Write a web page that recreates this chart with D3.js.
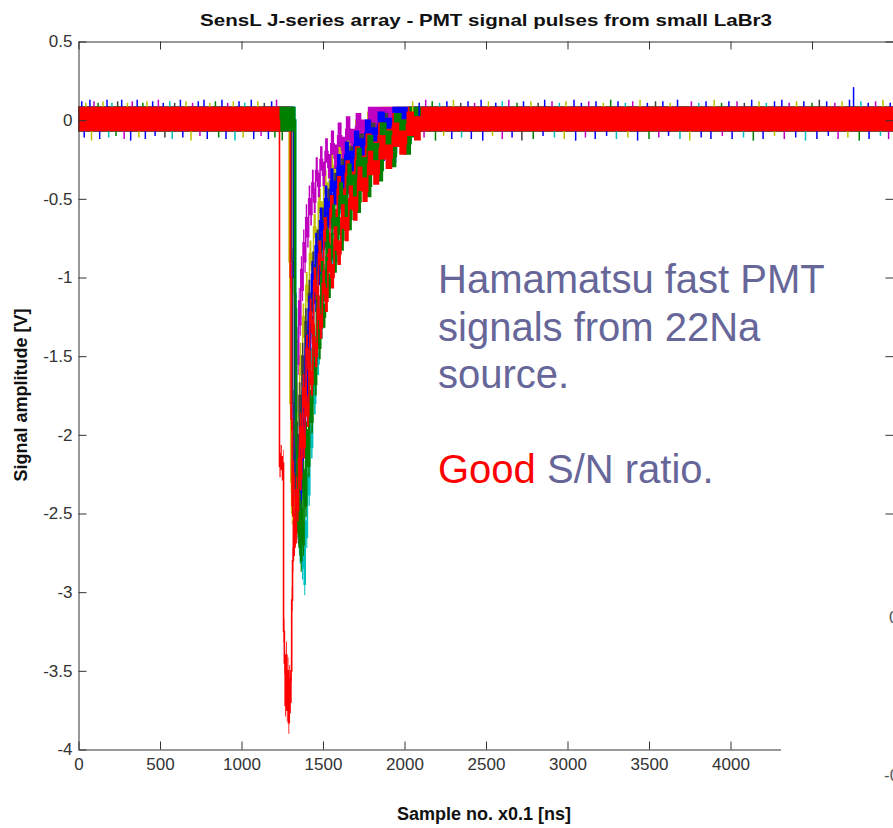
<!DOCTYPE html>
<html>
<head>
<meta charset="utf-8">
<script src="https://cdn.jsdelivr.net/npm/d3@7"></script>
<style>
body { margin: 0; background: #fff; }
text { font-family: "Liberation Sans", Arial, sans-serif; }
</style>
</head>
<body>
<script>
// PMT pulse traces (sample no., volts)

var xTicks = [0, 500, 1000, 1500, 2000, 2500, 3000, 3500, 4000, 4500, 5000];
var xLabelTicks = [0, 500, 1000, 1500, 2000, 2500, 3000, 3500, 4000];
var yTicks = [0.5, 0, -0.5, -1, -1.5, -2, -2.5, -3, -3.5, -4];

var traceNames = ["b1", "y1", "m1", "c1", "k1", "b2", "g1", "r2", "g2", "r1"];
var traceColors = ["#0000ff", "#bfbf00", "#bf00bf", "#00bfbf", "#404040",
                   "#0000ff", "#008000", "#ff0000", "#008000", "#ff0000"];

// noise band around every trace (V, relative to the trace)
var bandHigh = 0.085;
var bandLow = -0.07;

var pulseB1 = [[1325,0.0],[1328,-1.1],[1333,-2.0],[1338,-2.45],[1343,-2.3],[1348,-2.62],[1354,-2.4],[1360,-2.5],[1366,-2.15],[1372,-2.3],[1379,-1.9],[1386,-2.0],[1393,-1.65],[1400,-1.8],[1408,-1.45],[1416,-1.55],[1424,-1.25],[1433,-1.35],[1442,-1.05],[1452,-1.15],[1462,-0.88],[1473,-0.98],[1484,-0.72],[1496,-0.82],[1508,-0.58],[1521,-0.68],[1535,-0.46],[1550,-0.55],[1566,-0.37],[1583,-0.44],[1601,-0.28],[1620,-0.35],[1641,-0.21],[1663,-0.28],[1687,-0.15],[1712,-0.22],[1740,-0.1],[1770,-0.17],[1805,-0.06],[1845,-0.19],[1880,-0.12],[1915,-0.2],[1950,-0.04],[1990,-0.09],[2030,0.0]];
var pulseY1 = [[1288,0.0],[1292,-0.9],[1297,-1.8],[1302,-2.3],[1308,-2.5],[1314,-2.2],[1320,-2.4],[1327,-2.0],[1334,-2.15],[1341,-1.75],[1349,-1.88],[1357,-1.5],[1366,-1.62],[1375,-1.25],[1385,-1.38],[1395,-1.05],[1406,-1.15],[1417,-0.85],[1429,-0.95],[1442,-0.68],[1456,-0.78],[1471,-0.52],[1487,-0.6],[1504,-0.4],[1522,-0.48],[1542,-0.3],[1563,-0.37],[1586,-0.22],[1610,-0.28],[1636,-0.14],[1665,-0.2],[1697,-0.08],[1732,-0.13],[1770,-0.03],[1810,-0.07],[1850,0.0]];
var pulseM1 = [[1300,0.0],[1304,-1.0],[1309,-1.9],[1314,-2.3],[1319,-2.05],[1324,-2.2],[1329,-1.7],[1334,-1.85],[1339,-1.4],[1345,-1.55],[1351,-1.15],[1357,-1.3],[1364,-0.95],[1371,-1.08],[1378,-0.78],[1386,-0.9],[1394,-0.62],[1403,-0.74],[1412,-0.5],[1422,-0.6],[1432,-0.4],[1443,-0.52],[1455,-0.32],[1468,-0.42],[1482,-0.25],[1497,-0.35],[1513,-0.2],[1530,-0.3],[1548,-0.15],[1568,-0.24],[1590,-0.1],[1614,-0.19],[1640,-0.06],[1668,-0.14],[1700,-0.04],[1735,-0.08],[1775,0.0]];
var pulseC1 = [[1330,0.0],[1333,-1.2],[1338,-2.2],[1344,-2.6],[1350,-2.45],[1357,-2.75],[1364,-2.6],[1371,-2.85],[1378,-2.65],[1385,-2.95],[1391,-2.55],[1397,-2.65],[1404,-2.25],[1411,-2.38],[1419,-1.95],[1427,-2.08],[1436,-1.68],[1445,-1.8],[1455,-1.42],[1465,-1.55],[1476,-1.2],[1487,-1.32],[1499,-1.0],[1512,-1.1],[1526,-0.82],[1541,-0.92],[1557,-0.66],[1574,-0.75],[1592,-0.52],[1612,-0.6],[1633,-0.4],[1656,-0.47],[1680,-0.3],[1706,-0.37],[1734,-0.22],[1764,-0.28],[1797,-0.15],[1832,-0.21],[1870,-0.09],[1910,-0.14],[1955,-0.03],[2000,-0.07],[2045,0.0]];
var pulseK1 = [[1305,0.0],[1309,-0.9],[1314,-1.8],[1320,-2.3],[1326,-2.1],[1332,-2.35],[1339,-2.0],[1346,-2.15],[1354,-1.75],[1362,-1.9],[1371,-1.5],[1380,-1.65],[1390,-1.28],[1400,-1.42],[1411,-1.1],[1422,-1.22],[1434,-0.92],[1447,-1.04],[1461,-0.78],[1476,-0.88],[1492,-0.64],[1509,-0.74],[1527,-0.52],[1546,-0.62],[1566,-0.42],[1588,-0.5],[1611,-0.33],[1636,-0.4],[1662,-0.25],[1690,-0.32],[1720,-0.17],[1752,-0.23],[1786,-0.1],[1822,-0.15],[1860,-0.04],[1900,-0.08],[1945,0.0]];
var pulseB2 = [[1318,0.0],[1321,-1.0],[1326,-1.9],[1331,-2.4],[1336,-2.2],[1342,-2.5],[1348,-2.25],[1354,-2.38],[1361,-2.0],[1368,-2.12],[1375,-1.72],[1383,-1.85],[1391,-1.45],[1400,-1.58],[1409,-1.2],[1419,-1.32],[1429,-0.98],[1440,-1.1],[1452,-0.8],[1465,-0.9],[1479,-0.64],[1494,-0.74],[1510,-0.5],[1527,-0.6],[1545,-0.39],[1565,-0.47],[1586,-0.3],[1609,-0.37],[1634,-0.22],[1661,-0.28],[1690,-0.15],[1722,-0.2],[1757,-0.08],[1795,-0.13],[1835,-0.03],[1880,-0.07],[1925,0.0]];
var pulseG1 = [[1322,0.0],[1325,-1.1],[1330,-2.0],[1336,-2.5],[1342,-2.3],[1349,-2.65],[1356,-2.45],[1363,-2.8],[1370,-2.55],[1377,-2.7],[1384,-2.3],[1392,-2.45],[1400,-2.05],[1409,-2.2],[1418,-1.8],[1428,-1.92],[1438,-1.55],[1449,-1.68],[1461,-1.32],[1473,-1.45],[1486,-1.12],[1500,-1.25],[1515,-0.95],[1531,-1.06],[1548,-0.8],[1566,-0.9],[1585,-0.66],[1606,-0.76],[1628,-0.54],[1652,-0.63],[1677,-0.44],[1704,-0.52],[1733,-0.34],[1764,-0.42],[1797,-0.26],[1832,-0.32],[1869,-0.17],[1908,-0.23],[1950,-0.1],[1995,-0.15],[2040,-0.04],[2085,0.0]];
var pulseR2 = [[1295,0.0],[1299,-1.0],[1304,-1.9],[1310,-2.45],[1316,-2.25],[1322,-2.7],[1328,-2.5],[1335,-2.62],[1342,-2.2],[1350,-2.35],[1358,-1.95],[1367,-2.08],[1376,-1.7],[1386,-1.82],[1396,-1.45],[1407,-1.58],[1418,-1.22],[1430,-1.35],[1443,-1.02],[1457,-1.14],[1472,-0.85],[1488,-0.96],[1505,-0.7],[1523,-0.8],[1543,-0.56],[1564,-0.65],[1587,-0.44],[1611,-0.52],[1637,-0.34],[1665,-0.41],[1695,-0.25],[1727,-0.31],[1761,-0.17],[1798,-0.22],[1838,-0.1],[1880,-0.14],[1925,-0.04],[1972,-0.08],[2020,0.0]];
var pulseG2 = [[1328,0.0],[1331,-1.2],[1336,-2.1],[1342,-2.55],[1348,-2.35],[1355,-2.7],[1362,-2.5],[1369,-2.6],[1377,-2.25],[1385,-2.4],[1394,-2.0],[1403,-2.12],[1413,-1.72],[1423,-1.85],[1434,-1.45],[1446,-1.58],[1459,-1.2],[1472,-1.32],[1487,-0.98],[1502,-1.08],[1519,-0.78],[1537,-0.88],[1556,-0.62],[1577,-0.7],[1599,-0.48],[1623,-0.56],[1649,-0.36],[1676,-0.43],[1706,-0.26],[1738,-0.32],[1772,-0.18],[1809,-0.23],[1848,-0.1],[1890,-0.15],[1935,-0.04],[1982,-0.08],[2030,0.0]];
var pulseR1 = [[1228,0.0],[1233,-2.2],[1240,-2.15],[1247,-2.22],[1254,-2.18],[1258,-3.25],[1263,-3.45],[1268,-3.72],[1273,-3.4],[1278,-3.75],[1283,-3.5],[1288,-3.83],[1293,-3.55],[1298,-3.7],[1303,-3.5],[1308,-3.05],[1313,-2.8],[1318,-2.55],[1325,-2.65],[1333,-2.35],[1341,-2.48],[1350,-2.15],[1359,-2.28],[1369,-1.95],[1379,-2.08],[1390,-1.75],[1401,-1.88],[1413,-1.55],[1425,-1.68],[1438,-1.38],[1451,-1.5],[1465,-1.2],[1480,-1.32],[1496,-1.04],[1512,-1.15],[1530,-0.9],[1548,-1.0],[1568,-0.76],[1588,-0.85],[1610,-0.62],[1633,-0.7],[1658,-0.5],[1684,-0.57],[1712,-0.38],[1742,-0.45],[1774,-0.28],[1808,-0.34],[1845,-0.18],[1884,-0.24],[1925,-0.1],[1968,-0.15],[2012,-0.03],[2058,-0.06],[2100,0.0]];

var pulses = [pulseB1, pulseY1, pulseM1, pulseC1, pulseK1, pulseB2, pulseG1, pulseR2, pulseG2, pulseR1];

// noise spikes sticking out of the baseline band: [sample, value, trace]
var spikesUp = [[20,.12,0],[45,.11,1],[70,.13,0],[95,.12,2],[120,.11,6],[150,.12,1],[175,.13,0],[205,.11,3],[240,.12,4],[265,.13,0],[300,.11,1],[330,.12,2],[360,.13,5],[395,.11,6],[420,.12,1],[455,.12,0],[490,.13,2],[520,.11,0],[560,.12,3],[590,.11,4],[625,.13,0],[660,.12,1],[700,.11,2],[735,.12,0],[770,.13,5],[805,.11,1],[840,.12,6],[880,.13,0],[915,.11,2],[950,.12,1],[985,.12,0],[1020,.11,3],[1060,.13,5],[1100,.12,1],[1140,.11,4],[1185,.12,0],[1215,.13,2],
  [2050,.12,1],[2090,.11,0],[2130,.13,2],[2170,.12,6],[2215,.11,3],[2260,.12,0],[2300,.13,1],[2345,.11,4],[2390,.12,0],[2430,.11,2],[2470,.13,5],[2515,.12,1],[2560,.11,0],[2600,.12,3],[2640,.13,2],[2690,.11,6],[2730,.12,0],[2775,.12,1],[2820,.11,4],[2860,.13,0],[2905,.12,2],[2950,.11,3],[2990,.12,1],[3040,.13,0],[3085,.11,5],[3130,.12,2],[3175,.12,0],[3220,.11,1],[3265,.13,6],[3310,.12,0],[3355,.11,3],[3400,.12,2],[3445,.13,1],[3490,.11,0],[3540,.12,4],[3585,.12,5],[3630,.11,1],[3675,.13,0],[3760,.12,2],[3805,.11,3],[3850,.12,0],[3900,.13,1],[3945,.11,6],[3990,.12,0],[4040,.12,2],[4085,.11,4],[4130,.13,0],[4175,.12,1],[4220,.11,3],[4270,.12,5],[4315,.13,0],[4360,.11,2],[4405,.12,1],[4450,.12,0],[4500,.11,6],[4545,.13,4],[4590,.12,0],[4640,.11,2],[4685,.12,1],[4730,.13,0],[4755,.21,0],[4800,.12,3],[4845,.11,0],[4890,.12,2],[4935,.13,1],[4980,.11,0]];
var spikesDown = [[35,-.11,0],[80,-.13,1],[130,-.12,0],[185,-.11,3],[230,-.1,6],[280,-.12,2],[320,-.13,0],[370,-.11,1],[410,-.12,5],[470,-.1,0],[530,-.11,4],[575,-.12,3],[640,-.11,0],[690,-.13,1],[745,-.1,2],[790,-.12,5],[860,-.11,6],[905,-.12,0],[960,-.13,3],[1010,-.11,1],[1075,-.12,0],[1120,-.1,2],[1165,-.12,5],[1205,-.11,6],[1250,-.13,6],
  [2070,-.12,0],[2120,-.11,2],[2190,-.13,6],[2240,-.1,1],[2290,-.12,0],[2350,-.11,3],[2410,-.12,5],[2480,-.13,0],[2540,-.1,1],[2600,-.12,2],[2660,-.11,0],[2720,-.13,4],[2790,-.12,6],[2850,-.1,0],[2920,-.11,3],[2980,-.12,1],[3050,-.13,0],[3110,-.11,2],[3170,-.12,5],[3240,-.1,0],[3300,-.12,3],[3370,-.11,1],[3430,-.13,0],[3500,-.12,6],[3560,-.11,2],[3620,-.1,0],[3690,-.12,3],[3750,-.13,1],[3820,-.11,0],[3880,-.12,5],[3950,-.1,2],[4010,-.12,0],[4080,-.11,3],[4140,-.13,6],[4200,-.12,0],[4270,-.1,1],[4330,-.12,2],[4400,-.11,0],[4460,-.13,3],[4530,-.12,5],[4600,-.1,0],[4660,-.12,2],[4720,-.11,1],[4790,-.13,6],[4850,-.12,0],[4920,-.1,3],[4970,-.12,2]];

var titleText = "SensL J-series array - PMT signal pulses from small LaBr3";
var xLabelText = "Sample no. x0.1 [ns]";
var yLabelText = "Signal amplitude [V]";
var noteLines = ["Hamamatsu fast PMT", "signals from 22Na", "source."];

var width = 893, height = 828;
var axisColor = "#333";

var svg = d3.select("body").append("svg")
    .attr("width", width)
    .attr("height", height);

var x = d3.scaleLinear().domain([0, 5000]).range([78.5, 893.5]);
var y = d3.scaleLinear().domain([-4, 0.5]).range([749.5, 41.5]);

var line = d3.line()
    .x(function (d) { return x(d[0]); })
    .y(function (d) { return y(d[1]); })
    .curve(d3.curveStepAfter);

var band = d3.area()
    .x(function (d) { return x(d[0]); })
    .y0(function (d) { return y(d[1] + bandLow); })
    .y1(function (d) { return y(d[1] + bandHigh); })
    .curve(d3.curveStepAfter);

function fullTrace(i) {
    return [[0, 0]].concat(pulses[i]).concat([[5000, 0]]);
}

function drawTrace(i) {
    svg.append("path")
        .datum(fullTrace(i))
        .attr("d", band)
        .attr("fill", traceColors[i]);
    svg.append("path")
        .datum(pulses[i])
        .attr("d", line)
        .attr("fill", "none")
        .attr("stroke", traceColors[i])
        .attr("stroke-width", 1.6);
}

var last = pulses.length - 1;
for (var i = 0; i < last; i++) drawTrace(i);

svg.append("g").selectAll("line")
    .data(spikesUp.concat(spikesDown))
    .enter().append("line")
    .attr("x1", function (d) { return x(d[0]); })
    .attr("x2", function (d) { return x(d[0]); })
    .attr("y1", y(0))
    .attr("y2", function (d) { return y(d[1]); })
    .attr("stroke", function (d) { return traceColors[d[2]]; })
    .attr("stroke-width", 1.5);

drawTrace(last);

// axes, matlab style: ticks pointing inwards
function styleAxis(g) {
    g.selectAll("path, line").attr("stroke", axisColor).attr("stroke-width", 1);
    g.selectAll("text").attr("fill", axisColor).style("font-size", "17px")
        .style("font-family", "'Liberation Sans', Arial, sans-serif");
}

svg.append("g")
    .attr("transform", "translate(0,749.5)")
    .call(d3.axisBottom(x).tickValues(xTicks).tickSizeInner(-8).tickSizeOuter(0).tickPadding(8)
        .tickFormat(function (d) { return xLabelTicks.indexOf(d) >= 0 ? String(d) : ""; }))
    .call(styleAxis);

svg.append("g")
    .attr("transform", "translate(0,41.5)")
    .call(d3.axisTop(x).tickValues(xTicks).tickSizeInner(-8).tickSizeOuter(0).tickFormat(""))
    .call(styleAxis);

svg.append("g")
    .attr("transform", "translate(78.5,0)")
    .call(d3.axisLeft(y).tickValues(yTicks).tickSizeInner(-8).tickSizeOuter(0).tickPadding(6)
        .tickFormat(function (d) { return String(d); }))
    .call(styleAxis);

svg.append("g")
    .attr("transform", "translate(893.5,0)")
    .call(d3.axisRight(y).tickValues(yTicks).tickSizeInner(-8).tickSizeOuter(0).tickFormat(""))
    .call(styleAxis);

// other slide picture covering the lower right corner
svg.append("rect")
    .attr("x", 781).attr("y", 540)
    .attr("width", width - 781).attr("height", height - 540)
    .attr("fill", "#fff");

// edge of the neighbouring plot's tick labels, cut by the slide border
svg.append("text").attr("x", 889).attr("y", 623)
    .attr("fill", "#555").style("font-size", "17px").text("0");
svg.append("text").attr("x", 884).attr("y", 781)
    .attr("fill", "#555").style("font-size", "17px").text("-0");

// titles
svg.append("text")
    .attr("x", 486).attr("y", 26)
    .attr("text-anchor", "middle")
    .attr("textLength", 572).attr("lengthAdjust", "spacingAndGlyphs")
    .style("font-size", "17px").style("font-weight", "bold")
    .attr("fill", "#111")
    .text(titleText);

svg.append("text")
    .attr("x", 484).attr("y", 820)
    .attr("text-anchor", "middle")
    .style("font-size", "18px").style("font-weight", "bold")
    .attr("fill", "#111")
    .text(xLabelText);

svg.append("text")
    .attr("transform", "translate(27,395) rotate(-90)")
    .attr("text-anchor", "middle")
    .style("font-size", "18px").style("font-weight", "bold")
    .attr("fill", "#111")
    .text(yLabelText);

// slide annotation
var note = svg.append("text")
    .attr("x", 438).attr("y", 293)
    .style("font-size", "40px")
    .attr("fill", "#666699");
note.selectAll("tspan.l")
    .data(noteLines)
    .enter().append("tspan")
    .attr("class", "l")
    .attr("x", 438)
    .attr("dy", function (d, i) { return i === 0 ? 0 : 47.5; })
    .text(function (d) { return d; });
note.append("tspan").attr("x", 438).attr("dy", 95).attr("fill", "#ff0000").text("Good");
note.append("tspan").text(" S/N ratio.");
</script>
</body>
</html>
